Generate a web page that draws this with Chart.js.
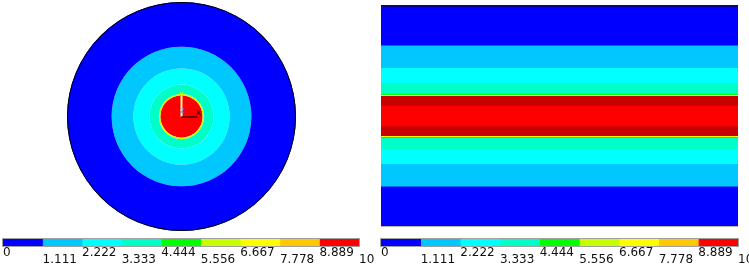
<!DOCTYPE html>
<html>
<head>
<meta charset="utf-8">
<script src="https://cdn.jsdelivr.net/npm/chart.js@4.4.1/dist/chart.umd.min.js"></script>
<style>
  html, body { margin: 0; padding: 0; background: #fff; }
  #page { position: relative; width: 749px; height: 265px; overflow: hidden; }
  .box { position: absolute; }
</style>
</head>
<body>
<div id="page">
  <div class="box" style="left:67px;top:2px;width:229px;height:229px"><canvas id="cross"></canvas></div>
  <div class="box" style="left:381px;top:5px;width:357px;height:222px"><canvas id="axial"></canvas></div>
  <div class="box" style="left:0px;top:238px;width:375px;height:27px"><canvas id="barLeft"></canvas></div>
  <div class="box" style="left:374px;top:238px;width:375px;height:27px"><canvas id="barRight"></canvas></div>
</div>
<script>
'use strict';

// contour levels shown on both colour bars
const levelTicks = [0, 1.111, 2.222, 3.333, 4.444, 5.556, 6.667, 7.778, 8.889, 10];

// cross section (left): outer edge of each band as r/R, centre outwards, and its level index
const crossEdges = [0.185, 0.198, 0.28, 0.42, 0.61, 1.0];
const crossLevels = [8, 5, 3, 2, 1, 0];

// axial section (right): band edges as distance from the axis / half height, centre outwards
// level 9 = above the top level (dark red)
const axialEdges = [0.09, 0.177, 0.186, 0.195, 0.294, 0.43, 0.633, 1.0];
const axialLevels = [8, 9, 6, 4, 3, 2, 1, 0];

const levelColors = ['#0000ff', '#00c8ff', '#00ffff', '#00ffc8', '#00ff00',
                     '#c8ff00', '#ffff00', '#ffc800', '#ff0000', '#c80000'];

Chart.defaults.animation = false;
Chart.defaults.events = [];
Chart.defaults.plugins.legend.display = false;
Chart.defaults.plugins.tooltip.enabled = false;
Chart.defaults.responsive = true;
Chart.defaults.maintainAspectRatio = false;

// ---- left: cross section as stacked rings ----
const outlinePlugin = {
    id: 'crossOutline',
    afterDatasetsDraw(chart) {
        const arc = chart.getDatasetMeta(0).data[0];
        if (!arc) return;
        const ctx = chart.ctx;
        const cx = arc.x, cy = arc.y, R = arc.outerRadius;
        ctx.save();
        ctx.strokeStyle = '#000';
        ctx.lineWidth = 1;
        ctx.beginPath();
        ctx.arc(cx, cy, R - 0.5, 0, Math.PI * 2);
        ctx.stroke();
        // coordinate triad at the centre
        ctx.strokeStyle = '#ffff99';
        ctx.lineWidth = 2;
        ctx.beginPath();
        ctx.moveTo(cx, cy);
        ctx.lineTo(cx, cy - R * 0.18);
        ctx.stroke();
        ctx.strokeStyle = '#000';
        ctx.lineWidth = 1;
        ctx.beginPath();
        ctx.moveTo(cx, cy + 0.5);
        ctx.lineTo(cx + R * 0.14, cy + 0.5);
        ctx.stroke();
        ctx.font = '7px "DejaVu Sans"';
        ctx.textAlign = 'center';
        ctx.textBaseline = 'middle';
        ctx.fillStyle = '#ffff00';
        ctx.fillText('Y', cx, cy - R * 0.19);
        ctx.fillStyle = '#000';
        ctx.fillText('X', cx + R * 0.15, cy - 3);
        ctx.fillStyle = '#5080ff';
        ctx.fillText('Z', cx + 1, cy - 5);
        ctx.restore();
    }
};

const crossSets = [];
for (let i = crossEdges.length - 1; i >= 0; i--) {
    const inner = i > 0 ? crossEdges[i - 1] : 0;
    crossSets.push({
        data: [1],
        weight: crossEdges[i] - inner,
        backgroundColor: levelColors[crossLevels[i]],
        borderWidth: 0,
        hoverOffset: 0,
        offset: 0
    });
}

new Chart(document.getElementById('cross'), {
    type: 'doughnut',
    data: { labels: ['T'], datasets: crossSets },
    options: {
        cutout: 0,
        layout: { padding: 0 }
    },
    plugins: [outlinePlugin]
});

// ---- right: axial section as floating bars ----
const axialSets = [];
axialEdges.forEach((edge, i) => {
    const color = levelColors[axialLevels[i]];
    if (i === 0) {
        axialSets.push({ data: [[-edge, edge]], backgroundColor: color });
    } else {
        const prev = axialEdges[i - 1];
        axialSets.push({ data: [[prev, edge]], backgroundColor: color });
        axialSets.push({ data: [[-edge, -prev]], backgroundColor: color });
    }
});

const axialFrame = {
    id: 'axialFrame',
    afterDatasetsDraw(chart) {
        const { left, right, top, bottom } = chart.chartArea;
        const ctx = chart.ctx;
        ctx.save();
        ctx.strokeStyle = '#111';
        ctx.lineWidth = 1.5;
        ctx.beginPath();
        ctx.moveTo(left, top + 0.75);
        ctx.lineTo(right, top + 0.75);
        ctx.stroke();
        ctx.strokeStyle = '#b8b8a8';
        ctx.lineWidth = 1;
        ctx.beginPath();
        ctx.moveTo(left, bottom - 0.5);
        ctx.lineTo(right, bottom - 0.5);
        ctx.stroke();
        ctx.restore();
    }
};

new Chart(document.getElementById('axial'), {
    type: 'bar',
    data: { labels: ['z'], datasets: axialSets },
    options: {
        layout: { padding: 0 },
        datasets: { bar: { grouped: false, barPercentage: 1, categoryPercentage: 1, borderWidth: 0 } },
        scales: {
            x: { display: false },
            y: { display: false, min: -1, max: 1 }
        }
    },
    plugins: [axialFrame]
});

// ---- colour bars ----
const barFrame = {
    id: 'barFrame',
    afterDatasetsDraw(chart) {
        const { left, right, top, bottom } = chart.chartArea;
        const ctx = chart.ctx;
        ctx.save();
        ctx.strokeStyle = '#a0a0a0';
        ctx.lineWidth = 1;
        ctx.strokeRect(left - 0.5, top + 0.5, right - left + 1, bottom - top - 1);
        ctx.restore();
    }
};

function makeColorBar(id, padLeft, padRight) {
    const sets = [];
    for (let i = 0; i < levelTicks.length - 1; i++) {
        sets.push({
            data: [[levelTicks[i], levelTicks[i + 1]]],
            backgroundColor: levelColors[i]
        });
    }
    return new Chart(document.getElementById(id), {
        type: 'bar',
        data: { labels: ['c'], datasets: sets },
        options: {
            indexAxis: 'y',
            layout: { padding: { left: padLeft, right: padRight, top: 0, bottom: 0 } },
            datasets: { bar: { grouped: false, barPercentage: 1, categoryPercentage: 1, borderWidth: 0 } },
            scales: {
                y: { display: false },
                x: {
                    type: 'linear',
                    min: 0,
                    max: 10,
                    grid: { display: false, drawTicks: false },
                    border: { display: false },
                    afterBuildTicks: s => { s.ticks = levelTicks.map(v => ({ value: v })); },
                    afterFit: s => { s.height = 18; s.paddingLeft = 0; s.paddingRight = 0; },
                    ticks: {
                        align: 'start',
                        padding: 1.8,
                        autoSkip: false,
                        maxRotation: 0,
                        color: '#111',
                        font: { family: '"DejaVu Sans", sans-serif', size: 12, lineHeight: 0.6 },
                        callback: (v, i) => {
                            const s = String(levelTicks[i]);
                            return i % 2 ? ['', s] : s;
                        }
                    }
                }
            }
        },
        plugins: [barFrame]
    });
}

makeColorBar('barLeft', 3, 16);
makeColorBar('barRight', 7, 11);
</script>
</body>
</html>
